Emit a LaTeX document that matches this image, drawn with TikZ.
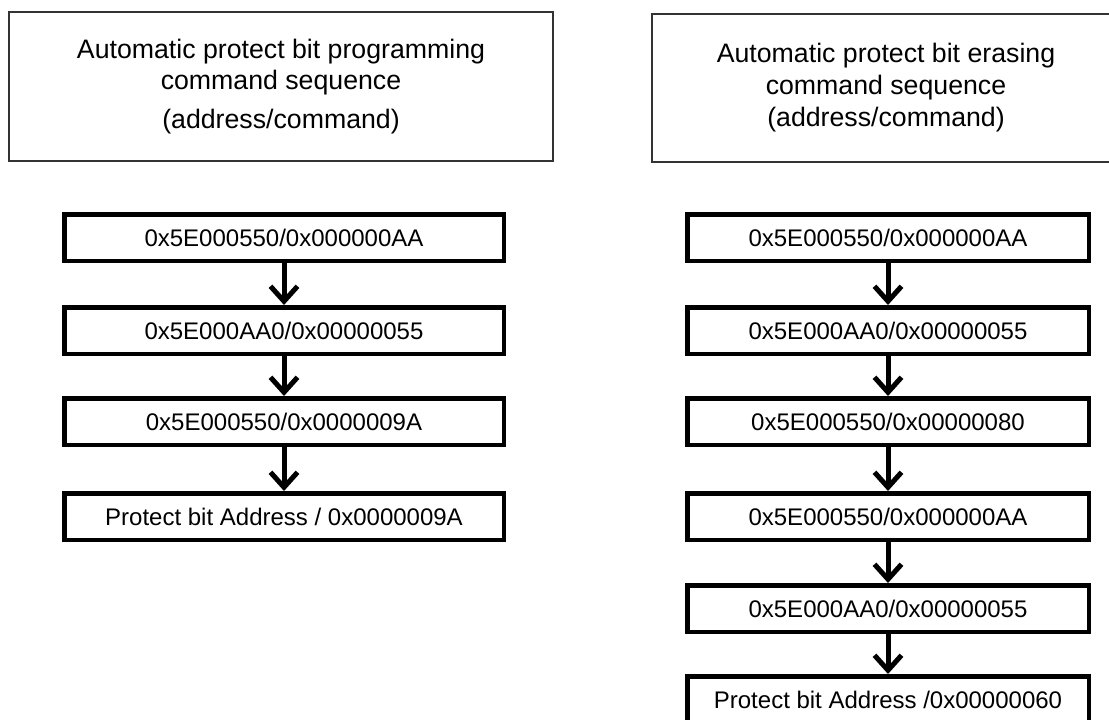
\documentclass[tikz,border=0pt]{standalone}
\usepackage{fontspec}
\setmainfont{Liberation Sans}
\usetikzlibrary{arrows.meta}
\begin{document}
\begin{tikzpicture}[x=1pt,y=-1pt,
  titlebox/.style={draw=black!80, line width=1.2pt, inner sep=0pt, align=center,
    font=\fontsize{26.7}{31.5}\selectfont},
  stepbox/.style={draw=black, line width=4.5pt, minimum height=46.5pt, inner sep=0pt,
    font=\fontsize{24}{28}\selectfont},
  leftstep/.style={stepbox, minimum width=439.5pt},
  rightstep/.style={stepbox, minimum width=401.5pt},
  flowarrow/.style={line width=5pt, -{Straight Barb[length=15pt,width=27pt]}}
]
\useasboundingbox (0,0) rectangle (1109,720);
\fill[white] (0,0) rectangle (1109,720);

% title boxes
\node[titlebox, minimum width=544pt, minimum height=149pt] (titleL) at (281,86.5)
  {Automatic protect bit programming\\command sequence\\[7pt](address/command)};
\node[titlebox, minimum width=468pt, minimum height=148pt,
  font=\fontsize{26.7}{32}\selectfont] (titleR) at (886,88)
  {Automatic protect bit erasing\\command sequence\\(address/command)};

% left column
\node[leftstep] (l1) at (284,237.5) {0x5E000550/0x000000AA};
\node[leftstep] (l2) at (284,330.5) {0x5E000AA0/0x00000055};
\node[leftstep] (l3) at (284,421.5) {0x5E000550/0x0000009A};
\node[leftstep] (l4) at (284,516.5) {Protect bit Address / 0x0000009A};

% right column
\node[rightstep] (r1) at (888,237.5) {0x5E000550/0x000000AA};
\node[rightstep] (r2) at (888,330.5) {0x5E000AA0/0x00000055};
\node[rightstep] (r3) at (888,421.5) {0x5E000550/0x00000080};
\node[rightstep] (r4) at (888,516.5) {0x5E000550/0x000000AA};
\node[rightstep] (r5) at (888,608.5) {0x5E000AA0/0x00000055};
\node[rightstep] (r6) at (888,699.5) {Protect bit Address /0x00000060};

% arrows
\draw[flowarrow] (l1) -- (l2);
\draw[flowarrow] (l2) -- (l3);
\draw[flowarrow] (l3) -- (l4);
\draw[flowarrow] (r1) -- (r2);
\draw[flowarrow] (r2) -- (r3);
\draw[flowarrow] (r3) -- (r4);
\draw[flowarrow] (r4) -- (r5);
\draw[flowarrow] (r5) -- (r6);
\end{tikzpicture}
\end{document}
